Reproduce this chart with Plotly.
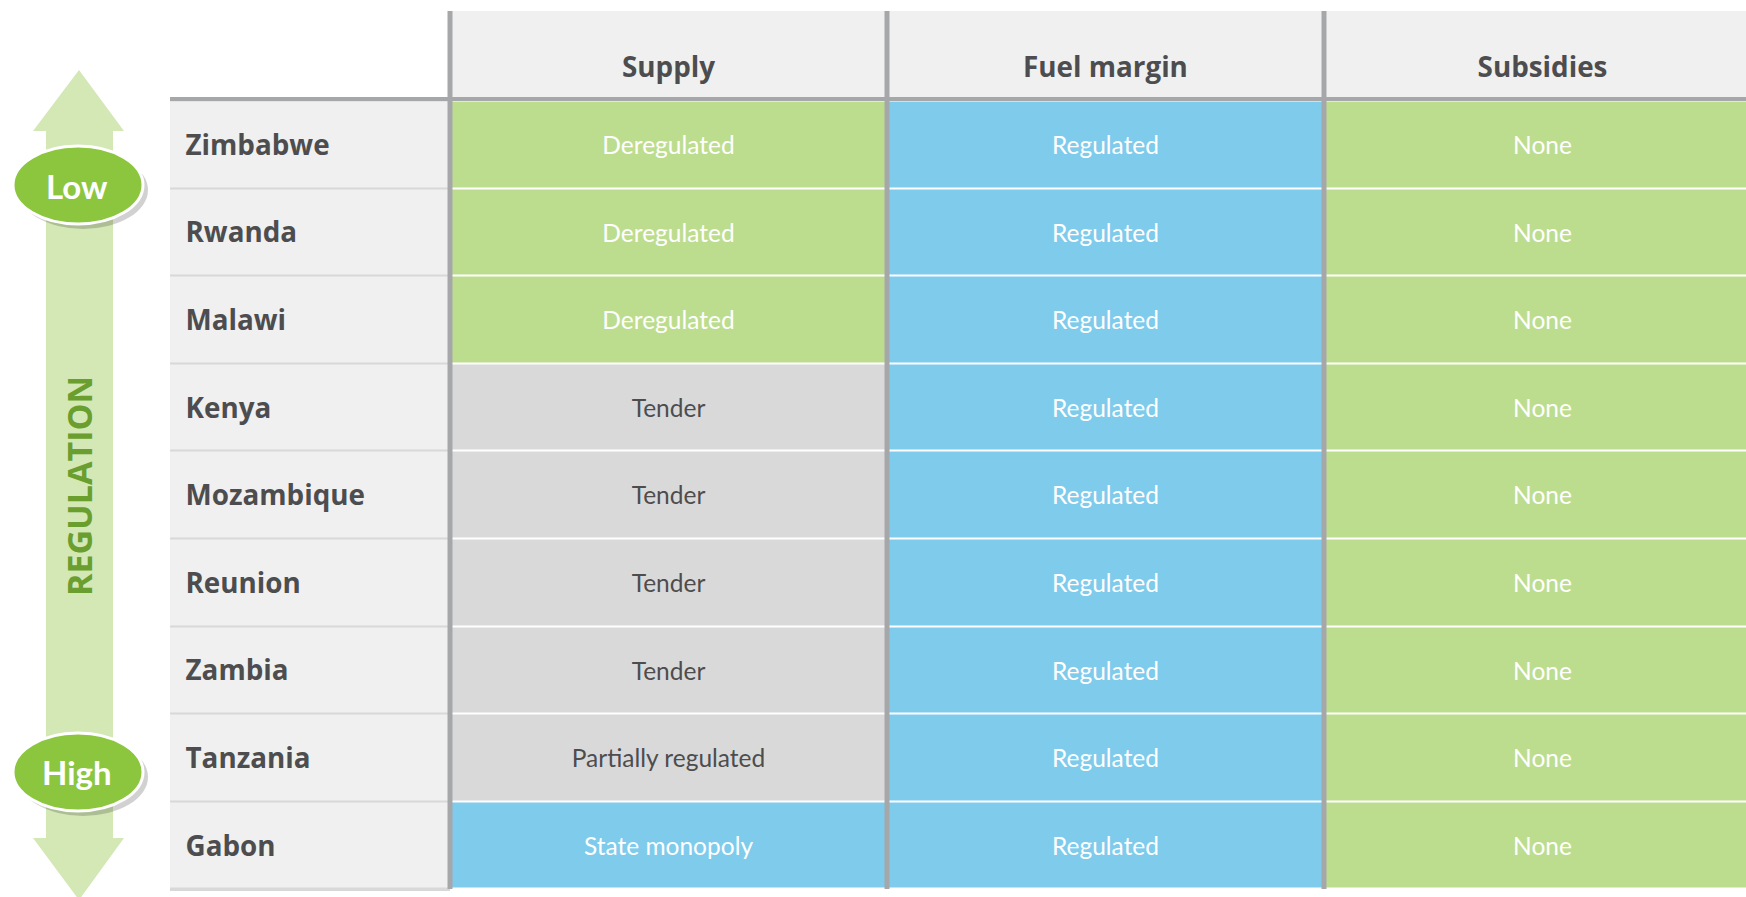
import plotly.graph_objects as go

# ---------------- data ----------------
countries = ["Zimbabwe", "Rwanda", "Malawi", "Kenya", "Mozambique",
             "Reunion", "Zambia", "Tanzania", "Gabon"]
columns = ["Supply", "Fuel margin", "Subsidies"]
supply = ["Deregulated", "Deregulated", "Deregulated", "Tender", "Tender",
          "Tender", "Tender", "Partially regulated", "State monopoly"]
fuel_margin = ["Regulated"] * 9
subsidies = ["None"] * 9
axis_title = "REGULATION"
axis_low = "Low"
axis_high = "High"

# ---------------- styling ----------------
GREEN = "#bddd8e"
BLUE = "#7ecbec"
GREY = "#d9d9da"
LIGHT = "#f0f0f0"
SEP = "#d8d8d8"
LINE = "#a6a7a9"
DARK = "#4d4d4f"
OVAL = "#8cc63f"
SHAFT = "#d3e8b5"
REGTXT = "#6a9e2f"

status_code = {"Deregulated": 0, "None": 0, "Regulated": 1, "State monopoly": 1,
               "Tender": 2, "Partially regulated": 2}
text_color = {0: "white", 1: "white", 2: DARK}

W, H = 1746, 897
COL_LEFT, COL_W = 450, 437          # first data column left edge, column width (px)
ROW_TOP, ROW_H = 100.5, 87.6        # first data row top, row height (px)
HEAD_TOP = 11
LABEL_LEFT = 170
TEXT_DY = 3.5 / ROW_H               # small downward nudge for text baselines

def xd(px):
    return (px - COL_LEFT) / COL_W - 0.5

def yd(py):
    return (py - ROW_TOP) / ROW_H - 0.5

table = [supply, fuel_margin, subsidies]
nrow, ncol = len(countries), len(columns)
z = [[status_code[table[c][r]] for c in range(ncol)] for r in range(nrow)]

fig = go.Figure()

# country label column
fig.add_trace(go.Heatmap(
    z=[[0] for _ in range(nrow)],
    x=[xd(LABEL_LEFT), -0.5], y=list(range(nrow)),
    colorscale=[[0, LIGHT], [1, LIGHT]], showscale=False, ygap=2,
    hoverinfo="skip"))

# data cells
fig.add_trace(go.Heatmap(
    z=z, x=list(range(ncol)), y=list(range(nrow)),
    colorscale=[[0, GREEN], [0.333, GREEN], [0.334, BLUE], [0.666, BLUE],
                [0.667, GREY], [1, GREY]],
    zmin=0, zmax=2, showscale=False, ygap=2, hoverinfo="skip"))

# cell texts
tx, ty, tt, tc = [], [], [], []
for c in range(ncol):
    for r in range(nrow):
        tx.append(c); ty.append(r + TEXT_DY); tt.append(table[c][r])
        tc.append(text_color[z[r][c]])
fig.add_trace(go.Scatter(
    x=tx, y=ty, text=tt, mode="text", hoverinfo="skip",
    textfont=dict(family="Lato", size=24.5, color=tc)))

# country names
fig.add_trace(go.Scatter(
    x=[xd(185.5)] * nrow, y=[r + TEXT_DY for r in range(nrow)], text=countries,
    mode="text", textposition="middle right", hoverinfo="skip",
    textfont=dict(family="Open Sans", size=27.8, color=DARK, weight="bold")))

# header texts
fig.add_trace(go.Scatter(
    x=list(range(ncol)), y=[yd(70.5)] * ncol, text=columns, mode="text",
    hoverinfo="skip",
    textfont=dict(family="Open Sans", size=27.8, color=DARK, weight="bold")))

shapes = []
# separator background under label column
shapes.append(dict(type="rect", xref="x", yref="y", layer="below",
                   x0=xd(LABEL_LEFT), x1=-0.5, y0=-0.5, y1=nrow - 0.5 + 2 / ROW_H,
                   fillcolor=SEP, line=dict(width=0)))
# header background
shapes.append(dict(type="rect", xref="x", yref="y", layer="below",
                   x0=-0.5, x1=ncol + 1, y0=yd(HEAD_TOP), y1=-0.5,
                   fillcolor=LIGHT, line=dict(width=0)))
# header bottom line
shapes.append(dict(type="line", xref="x", yref="y",
                   x0=xd(LABEL_LEFT), x1=ncol + 1, y0=yd(99), y1=yd(99),
                   line=dict(color=LINE, width=4)))
# vertical column lines
for c in range(ncol):
    shapes.append(dict(type="line", xref="x", yref="y",
                       x0=c - 0.5, x1=c - 0.5, y0=yd(HEAD_TOP), y1=nrow - 0.5,
                       line=dict(color=LINE, width=5)))

# left arrow (paper coords)
def px_(x):
    return x / W

def py_(y):
    return 1 - y / H

arrow_pts = [(79, 70), (124, 131), (113, 131), (113, 838), (124, 838), (79, 900),
             (33, 838), (46, 838), (46, 131), (33, 131)]
path = "M " + " L ".join(f"{px_(a):.5f},{py_(b):.5f}" for a, b in arrow_pts) + " Z"
shapes.append(dict(type="path", xref="paper", yref="paper", path=path,
                   fillcolor=SHAFT, line=dict(width=0)))

for cy in (185, 772):
    shapes.append(dict(type="circle", xref="paper", yref="paper",
                       x0=px_(14 + 4), x1=px_(144 + 4), y0=py_(cy - 39 + 5), y1=py_(cy + 39 + 5),
                       fillcolor="rgba(0,0,0,0.18)", line=dict(width=0)))
    shapes.append(dict(type="circle", xref="paper", yref="paper",
                       x0=px_(13), x1=px_(143), y0=py_(cy - 39), y1=py_(cy + 39),
                       fillcolor=OVAL, line=dict(color="white", width=3)))

annotations = [
    dict(x=px_(77), y=py_(186), xref="paper", yref="paper", text=axis_low,
         xanchor="center", yanchor="middle", showarrow=False,
         font=dict(family="Lato", size=33, color="white", weight="bold")),
    dict(x=px_(77), y=py_(772), xref="paper", yref="paper", text=axis_high,
         xanchor="center", yanchor="middle", showarrow=False,
         font=dict(family="Lato", size=33, color="white", weight="bold")),
    dict(x=px_(79), y=py_(486), xref="paper", yref="paper", text=axis_title,
         xanchor="center", yanchor="middle", textangle=-90, showarrow=False,
         font=dict(family="Open Sans", size=34, color=REGTXT, weight="bold")),
]

fig.update_layout(
    width=W, height=H, margin=dict(l=0, r=0, t=0, b=0),
    paper_bgcolor="white", plot_bgcolor="white", showlegend=False,
    xaxis=dict(range=[xd(0), xd(W)], visible=False, fixedrange=True),
    yaxis=dict(range=[yd(H), yd(0)], visible=False, fixedrange=True),
    shapes=shapes, annotations=annotations,
)

fig.write_html("out.html", config={"displayModeBar": False},
               post_script="document.body.style.margin='0';document.body.style.overflow='hidden';")
